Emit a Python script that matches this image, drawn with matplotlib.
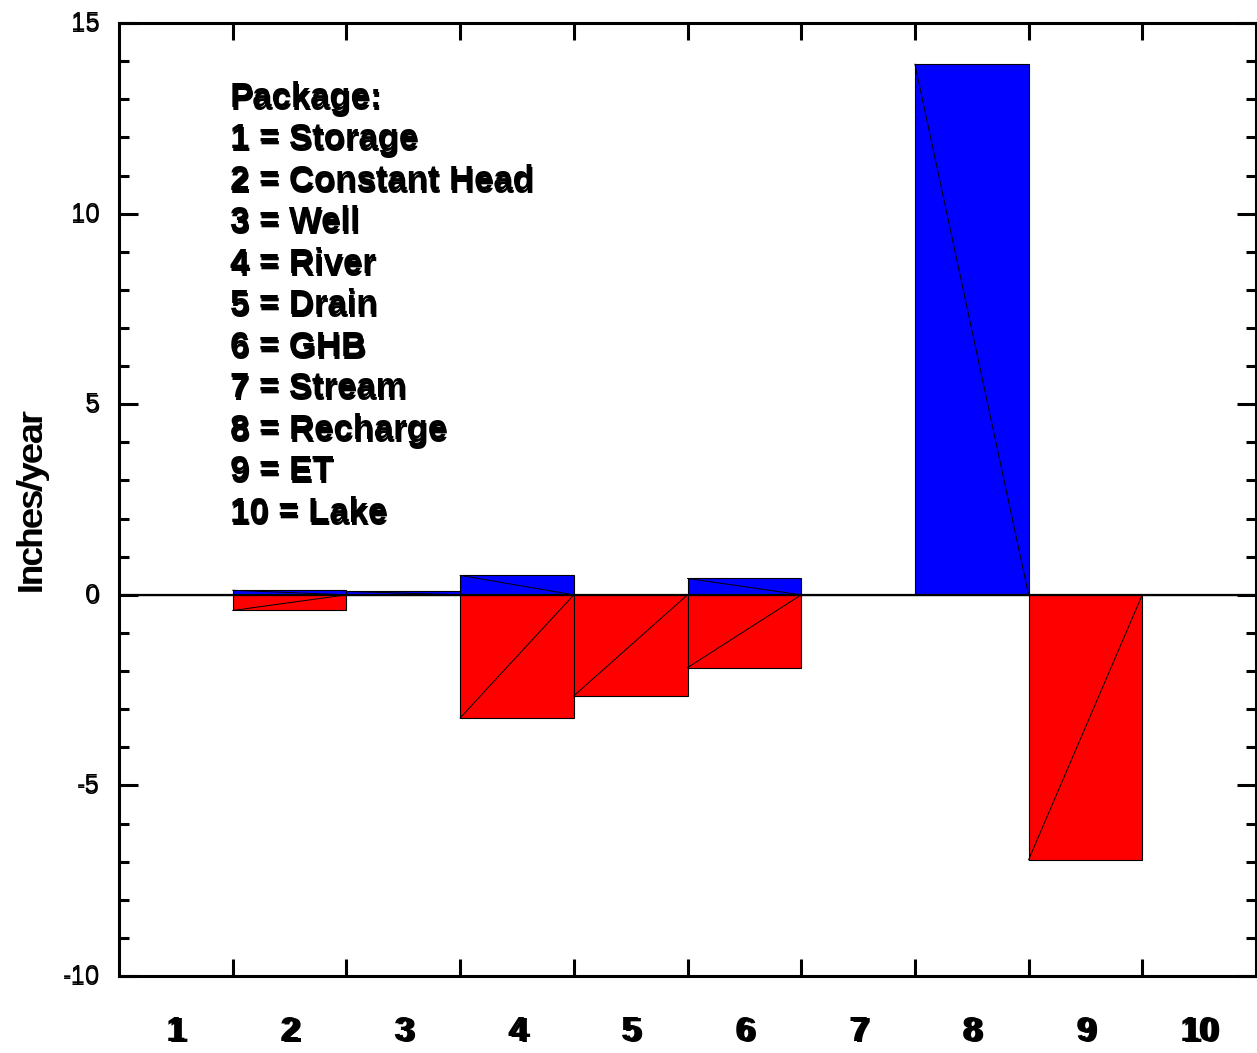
import numpy as np
import matplotlib.pyplot as plt
import matplotlib.transforms as mtransforms

# package numbers and net budget terms (inches/year)
packages = [1, 2, 3, 4, 5, 6, 7, 8, 9, 10]
inflow = [0.0, 0.12, 0.09, 0.51, 0.0, 0.43, 0.0, 13.92, 0.0, 0.0]
outflow = [0.0, -0.41, 0.0, -3.23, -2.65, -1.91, 0.0, 0.0, -6.95, 0.0]
legend_lines = ["Package:", "1 = Storage", "2 = Constant Head", "3 = Well",
                "4 = River", "5 = Drain", "6 = GHB", "7 = Stream",
                "8 = Recharge", "9 = ET", "10 = Lake"]
yticks = [-10, -5, 0, 5, 10, 15]
ytick_labels = ["-10", "-5", "0", "5", "10", "15"]

plt.rcParams['font.family'] = ['Liberation Sans', 'DejaVu Sans']

fig = plt.figure(figsize=(12.57, 10.53), dpi=100)
ax = fig.add_axes([0.0947, 0.0731, 0.9045, 0.905])


def ghost_text(x, y, s, transform, dx=1.0, dy=-2.5, **kw):
    # text printed twice with a tiny shift, like the original output
    ax.text(x, y, s, transform=transform, clip_on=False, **kw)
    tr = mtransforms.offset_copy(transform, fig=fig, x=dx, y=dy, units='dots')
    ax.text(x, y, s, transform=tr, clip_on=False, **kw)


x = np.array(packages, dtype=float)
ax.bar(x, inflow, width=1.0, color='#0000ff', edgecolor='black', linewidth=0.8, zorder=2)
ax.bar(x, outflow, width=1.0, color='#ff0000', edgecolor='black', linewidth=0.8, zorder=2)

# diagonal seams left by the polygon fill
for xi, v in zip(x, inflow):
    if v != 0:
        ax.plot([xi - 0.5, xi + 0.5], [v, 0], color='black', lw=0.7, zorder=3)
for xi, v in zip(x, outflow):
    if v != 0:
        ax.plot([xi - 0.5, xi + 0.5], [v, 0], color='black', lw=0.7, zorder=3)

ax.axhline(0, color='black', lw=1.6, zorder=4)

ax.set_xlim(0.5, 10.5)
ax.set_ylim(-10, 15)

ax.set_xticks(np.arange(1.5, 10.5, 1.0))
ax.set_xticklabels([])
ax.set_yticks(yticks)
ax.set_yticks(np.arange(-10, 16, 1), minor=True)
ax.set_yticklabels([])
ax.tick_params(axis='x', which='major', direction='in', top=True, bottom=True,
               length=12, width=2.2)
ax.tick_params(axis='y', which='major', direction='in', left=True, right=True,
               length=14, width=2.2)
ax.tick_params(axis='y', which='minor', direction='in', left=True, right=True,
               length=7.5, width=2.2)
for sp in ax.spines.values():
    sp.set_linewidth(2.2)

xt = ax.get_xaxis_transform()
for p in packages:
    ghost_text(p, -0.058, str(p), xt, dx=3, dy=-1.5, ha='center', va='center',
               fontsize=25, fontweight='bold')

yt = ax.get_yaxis_transform()
for v, lab in zip(yticks, ytick_labels):
    ghost_text(-0.017, v, lab, yt, dx=0.5, dy=-2, ha='right', va='center',
               fontsize=18.5)

ghost_text(-0.078, 0.5, "Inches/year", ax.transAxes, dx=0, dy=2, rotation=90,
           ha='center', va='center', fontsize=25.5)

for i, line in enumerate(legend_lines):
    ghost_text(1.476, 13.06 - 1.089 * i, line, ax.transData, dx=0.5, dy=-3,
               ha='left', va='center', fontsize=25, fontweight='bold')

fig.savefig('out.png', dpi=100)
